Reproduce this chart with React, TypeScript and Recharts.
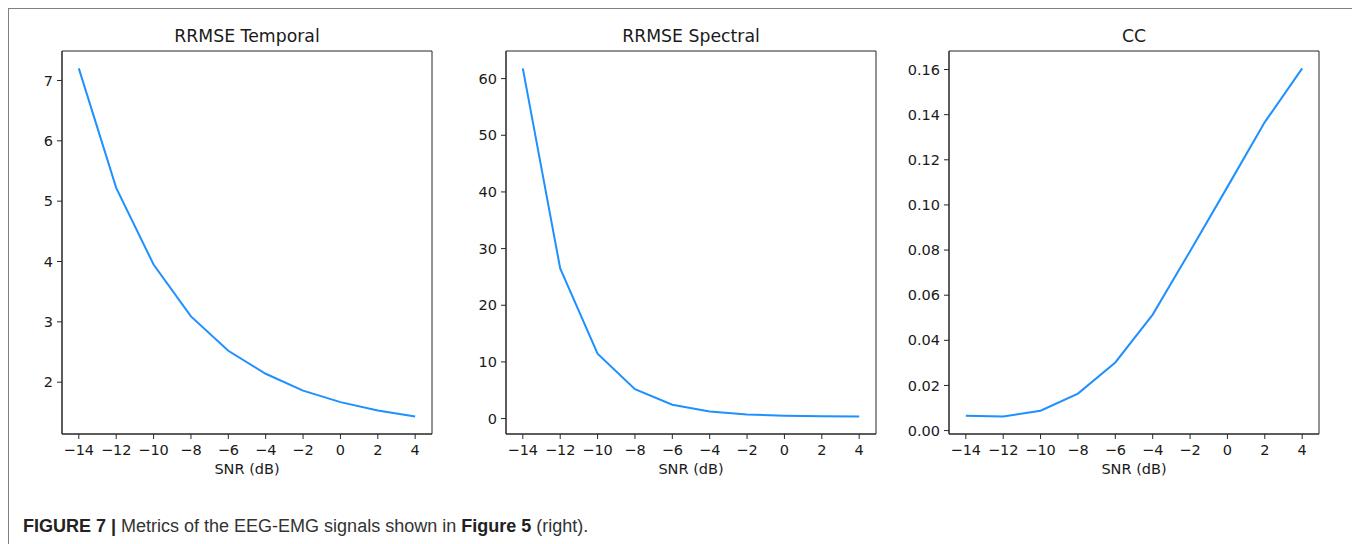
import React from 'react';
import { LineChart, Line, XAxis, YAxis, ReferenceArea } from 'recharts';

const snr = [-14, -12, -10, -8, -6, -4, -2, 0, 2, 4];
const rrmseTemporal = [7.2, 5.22, 3.95, 3.09, 2.52, 2.14, 1.86, 1.67, 1.53, 1.43];
const rrmseSpectral = [61.8, 26.5, 11.45, 5.2, 2.45, 1.25, 0.72, 0.5, 0.4, 0.35];
const ccValues = [0.0066, 0.0062, 0.0088, 0.0164, 0.0302, 0.0514, 0.0795, 0.108, 0.1367, 0.1605];

const xTicks = [-14, -12, -10, -8, -6, -4, -2, 0, 2, 4];
const temporalTicks = [2, 3, 4, 5, 6, 7];
const spectralTicks = [0, 10, 20, 30, 40, 50, 60];
const ccTicks = [0, 0.02, 0.04, 0.06, 0.08, 0.1, 0.12, 0.14, 0.16];

const titles = ['RRMSE Temporal', 'RRMSE Spectral', 'CC'];
const xLabel = 'SNR (dB)';

const FONT = '"DejaVu Sans", sans-serif';
const LINE_COLOR = '#1E90FF';
const AXIS_COLOR = '#262626';

const X_DOMAIN: [number, number] = [-14.9, 4.9];

function pad(values: number[]): [number, number] {
  const mn = Math.min(...values);
  const mx = Math.max(...values);
  const r = mx - mn;
  return [mn - 0.05 * r, mx + 0.05 * r];
}

const fmtX = (v: number) => (v < 0 ? '\u2212' + Math.abs(v) : String(v));

const PLOT_W = 370;
const PLOT_H = 383;
const Y_AXIS_W = 54;
const MARGIN = { top: 10, right: 10, bottom: 5, left: 0 };
const CHART_W = Y_AXIS_W + PLOT_W + MARGIN.right;
const CHART_H = MARGIN.top + PLOT_H + 40 + MARGIN.bottom;

// plot-left x positions in container coords
const plotLefts = [54, 498, 941];
const PLOT_TOP = 42;

type PanelProps = {
  values: number[];
  ticks: number[];
  fmtY: (v: number) => string;
  left: number;
};

function Panel({ values, ticks, fmtY, left }: PanelProps) {
  const data = snr.map((x, i) => ({ x, y: values[i] }));
  const yDom = pad(values);
  const tickStyle = { fontFamily: FONT, fontSize: 14.5, fill: '#1a1a1a' };
  return (
    <div style={{ position: 'absolute', left: left - Y_AXIS_W, top: PLOT_TOP - MARGIN.top }}>
      <LineChart width={CHART_W} height={CHART_H} data={data} margin={MARGIN}>
        <XAxis
          dataKey="x"
          type="number"
          domain={X_DOMAIN}
          ticks={xTicks}
          tickFormatter={fmtX}
          allowDataOverflow
          height={40}
          tickSize={5}
          tickMargin={5.5}
          tick={tickStyle}
          stroke={AXIS_COLOR}
          tickLine={{ stroke: AXIS_COLOR }}
          axisLine={{ stroke: AXIS_COLOR }}
          interval={0}
        />
        <YAxis
          type="number"
          domain={yDom}
          ticks={ticks}
          tickFormatter={fmtY}
          allowDataOverflow
          width={Y_AXIS_W}
          tickSize={5}
          tickMargin={4}
          tick={tickStyle}
          stroke={AXIS_COLOR}
          tickLine={{ stroke: AXIS_COLOR }}
          axisLine={{ stroke: AXIS_COLOR }}
          interval={0}
        />
        <ReferenceArea
          x1={X_DOMAIN[0]}
          x2={X_DOMAIN[1]}
          y1={yDom[0]}
          y2={yDom[1]}
          fill="none"
          stroke={AXIS_COLOR}
          strokeWidth={1}
          ifOverflow="visible"
        />
        <Line
          type="linear"
          dataKey="y"
          stroke={LINE_COLOR}
          strokeWidth={2}
          dot={false}
          activeDot={false}
          isAnimationActive={false}
        />
      </LineChart>
    </div>
  );
}

export default function App() {
  const panels = [
    { values: rrmseTemporal, ticks: temporalTicks, fmtY: (v: number) => String(v) },
    { values: rrmseSpectral, ticks: spectralTicks, fmtY: (v: number) => String(v) },
    { values: ccValues, ticks: ccTicks, fmtY: (v: number) => v.toFixed(2) },
  ];
  return (
    <div
      style={{
        position: 'relative',
        width: 1348,
        height: 536,
        boxSizing: 'border-box',
        borderLeft: '1px solid #808080',
        borderTop: '1px solid #808080',
        borderRight: '1px solid #808080',
        background: '#fff',
        marginLeft: 0,
      }}
    >
      <style>{'body{overflow:hidden;background:#fff}'}</style>
      {panels.map((p, i) => (
        <Panel key={i} values={p.values} ticks={p.ticks} fmtY={p.fmtY} left={plotLefts[i] - 1} />
      ))}
      <svg
        width={1348}
        height={536}
        style={{ position: 'absolute', left: -1, top: -1, pointerEvents: 'none' }}
      >
        {titles.map((t, i) => (
          <text
            key={t}
            x={plotLefts[i] + PLOT_W / 2}
            y={33.8}
            textAnchor="middle"
            fontFamily={FONT}
            fontSize={17.3}
            fill="#1a1a1a"
          >
            {t}
          </text>
        ))}
        {titles.map((t, i) => (
          <text
            key={'xl' + i}
            x={plotLefts[i] + PLOT_W / 2}
            y={465.6}
            textAnchor="middle"
            fontFamily={FONT}
            fontSize={14.5}
            fill="#1a1a1a"
          >
            {xLabel}
          </text>
        ))}
        <text x={15} y={524} fontFamily='"Liberation Sans", Arial, sans-serif' fontSize={18} fill="#333">
          <tspan fontWeight="bold" fill="#222">FIGURE 7 | </tspan>
          <tspan>Metrics of the EEG-EMG signals shown in </tspan>
          <tspan fontWeight="bold" fill="#222">Figure 5</tspan>
          <tspan> (right).</tspan>
        </text>
      </svg>
    </div>
  );
}
